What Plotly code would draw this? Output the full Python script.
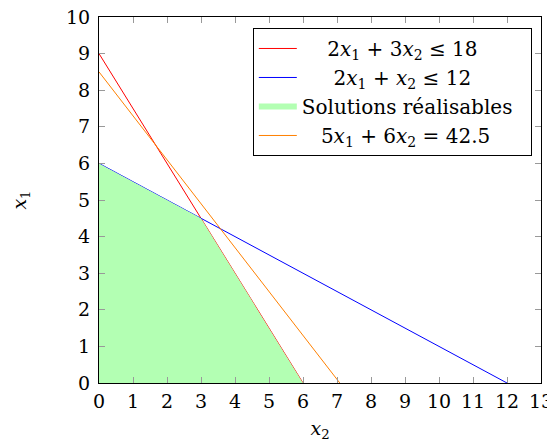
import plotly.graph_objects as go

# Data
red_x = [0, 6]
red_y = [9, 0]
blue_x = [0, 12]
blue_y = [6, 0]
fill_x = [0, 0, 3, 6, 0]
fill_y = [0, 6, 4.5, 0, 0]
orange_x = [0, 7.083]
orange_y = [8.5, 0]

x_ticks = list(range(0, 14))
y_ticks = list(range(0, 11))

NB = "\u00a0"
names = [
    NB * 4 + "2<i>x</i><sub>1</sub> + 3<i>x</i><sub>2</sub> ≤ 18",
    NB * 5 + "2<i>x</i><sub>1</sub> + <i>x</i><sub>2</sub> ≤ 12",
    "Solutions réalisables" + NB * 2,
    NB * 3 + "5<i>x</i><sub>1</sub> + 6<i>x</i><sub>2</sub> = 42.5",
]

FONT = "DejaVu Serif"

fig = go.Figure()
fig.add_trace(go.Scatter(x=red_x, y=red_y, mode="lines", name=names[0],
                         line=dict(color="#ff0000", width=1)))
fig.add_trace(go.Scatter(x=blue_x, y=blue_y, mode="lines", name=names[1],
                         line=dict(color="#0000ff", width=1)))
fig.add_trace(go.Scatter(x=fill_x, y=fill_y, mode="none", fill="toself",
                         fillcolor="#b3ffb3", name=names[2]))
fig.add_trace(go.Scatter(x=orange_x, y=orange_y, mode="lines", name=names[3],
                         line=dict(color="#ff8000", width=1)))

axis_common = dict(
    showgrid=False, zeroline=False, showline=True, linecolor="black",
    linewidth=1, mirror="allticks", ticks="inside", ticklen=6,
    tickcolor="#999999", tickfont=dict(family=FONT, size=19, color="black"),
    automargin=False, ticklabeloverflow="allow",
)

# the page body adds an 8px offset; figure is sized to fit the window
fig.update_layout(
    width=547, height=435,
    margin=dict(l=91, r=14, t=9, b=60),
    plot_bgcolor="white", paper_bgcolor="white",
    font=dict(family=FONT, size=19, color="black"),
    xaxis=dict(range=[0, 13], tickvals=x_ticks, ticktext=[str(v) for v in x_ticks],
               ticklabelstandoff=1,
               title=dict(text="<i>x</i><sub>2</sub>", font=dict(family=FONT, size=19),
                          standoff=10),
               **axis_common),
    yaxis=dict(range=[0, 10], tickvals=y_ticks, ticktext=[str(v) for v in y_ticks],
               ticklabelstandoff=4,
               title=dict(text="<i>x</i><sub>1</sub>", font=dict(family=FONT, size=19),
                          standoff=50),
               **axis_common),
    legend=dict(x=0.348, y=0.97, xanchor="left", yanchor="top",
                bordercolor="black", borderwidth=1, bgcolor="white",
                font=dict(family=FONT, size=20), itemwidth=38,
                tracegroupgap=0),
    showlegend=True,
)

fig.write_html("out.html")
